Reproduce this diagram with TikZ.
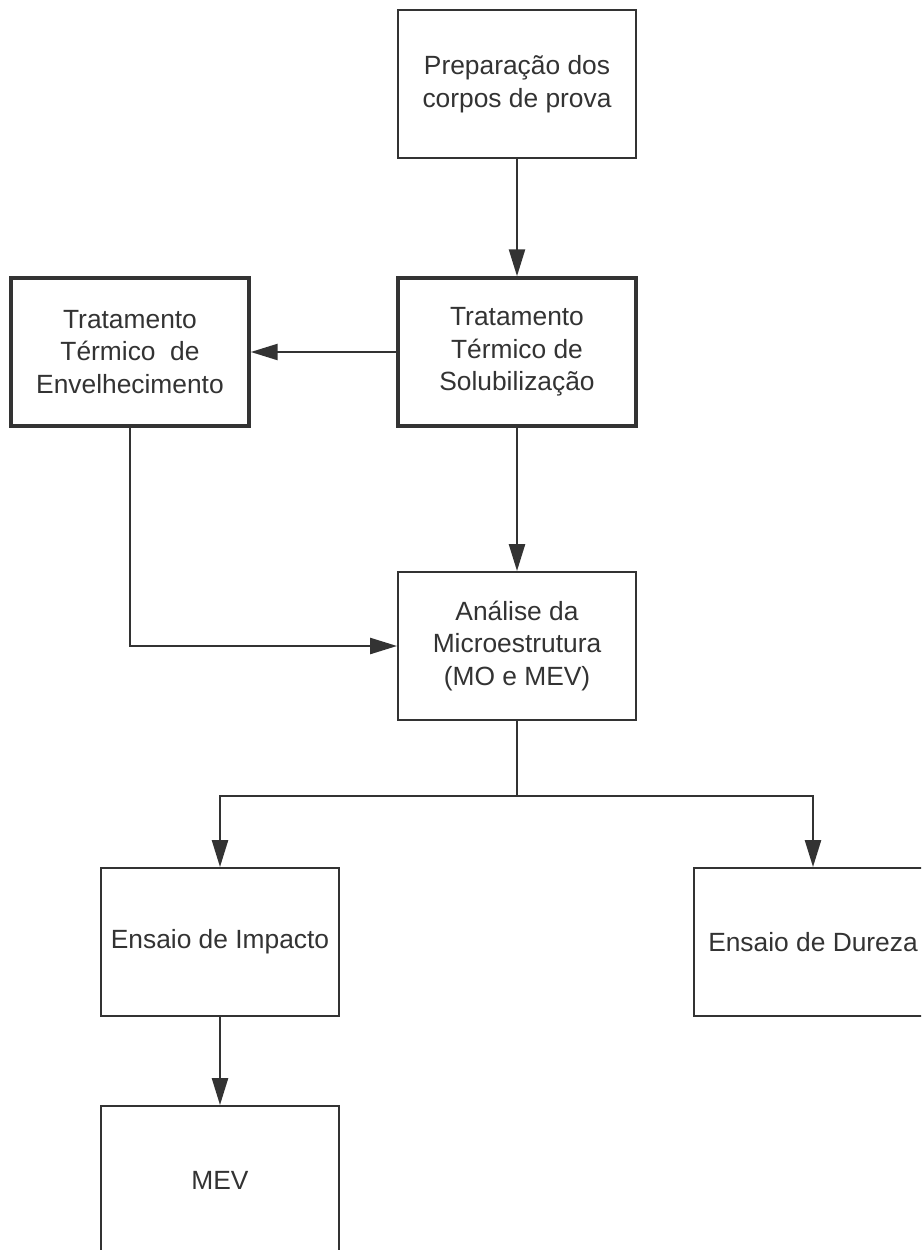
\documentclass[tikz,border=0pt]{standalone}
\usepackage{fontspec}
\setmainfont{Liberation Sans}
\usetikzlibrary{arrows.meta}

\def\boxw{4.76cm}
\def\boxh{2.96cm}

\begin{document}
\begin{tikzpicture}[x=0.02cm,y=-0.02cm,line width=1.4pt,draw=black!80,
    -{Triangle[length=5.4mm,width=3.2mm]}]
    \tikzstyle{stage}=[rectangle,draw=black!80,line width=1.1pt,fill=white,
        minimum width=\boxw,minimum height=\boxh,inner sep=0pt,
        align=center,text=black!80,font=\fontsize{15}{18.5}\selectfont]
    \tikzstyle{heat stage}=[stage, line width=2pt]

    % Fix the page to the reference size
    \clip (0,0) rectangle (921,1250);
    \fill[white] (0,0) rectangle (921,1250);

    % Draw the stage nodes
    \node[stage] (prep) at (517,84) {Preparação dos\\corpos de prova};
    \node[heat stage] (sol) at (517,352) {Tratamento\\Térmico de\\Solubilização};
    \node[heat stage] (env) at (130,352) {Tratamento\\Térmico \ de\\Envelhecimento};
    \node[stage] (ana) at (517,646) {Análise da\\Microestrutura\\(MO e MEV)};
    \node[stage] (imp) at (220,942) {Ensaio de Impacto};
    \node[stage] (dur) at (813,942) {Ensaio de Dureza};
    \node[stage] (mev) at (220,1180) {MEV};

    % Corner points of the branching lines
    \coordinate (split) at (517,796);

    % Connect the stages
    \draw (prep) -- (sol);
    \draw (sol) -- (env);
    \draw (sol) -- (ana);
    \draw (env.south) |- (ana.west);
    \draw[-] (ana.south) -- (split);
    \draw (split) -| (imp.north);
    \draw (split) -| (dur.north);
    \draw (imp) -- (mev);
\end{tikzpicture}
\end{document}
